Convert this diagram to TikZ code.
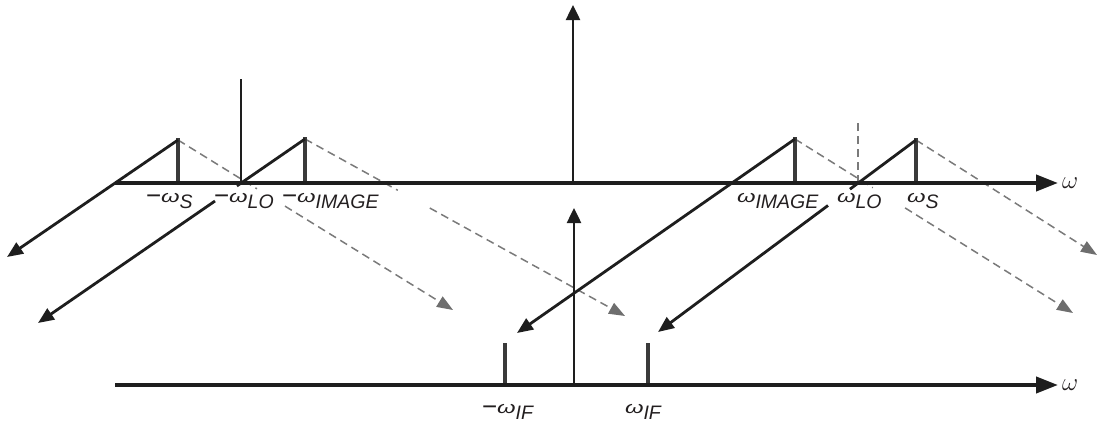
\documentclass[tikz,border=0pt]{standalone}
\usepackage{fontspec}
\usepackage{graphicx}
\setmainfont{Liberation Sans}
\usetikzlibrary{arrows.meta,calc}
\definecolor{axisc}{HTML}{1E1E1E}
\definecolor{barc}{HTML}{3A3A3A}
\definecolor{dashc}{HTML}{7A7A7A}
\definecolor{dashtip}{HTML}{6E6E6E}
\definecolor{txtc}{HTML}{231F20}
\newcommand{\mns}{\raisebox{-2pt}{\fontsize{26}{26}\selectfont −}}
\newcommand{\omlab}[2]{#1\scalebox{1.4}[1]{\fontsize{17}{17}\selectfont\itshape ω}\raisebox{-6pt}{\fontsize{19.5}{19.5}\selectfont\itshape #2}}
\begin{document}
\begin{tikzpicture}[x=1pt,y=-1pt,
  axis/.style={line width=4pt,color=axisc,-{Triangle[length=22pt,width=16pt]}},
  bar/.style={line width=4.5pt,color=barc},
  sol/.style={line width=2.8pt,color=axisc},
  solarrow/.style={sol,-{Triangle[length=16pt,width=13pt]}},
  vline/.style={line width=2.5pt,color=axisc,-{Triangle[length=15pt,width=14pt]}},
  dsh/.style={line width=1.5pt,color=dashc,dash pattern=on 8pt off 5pt},
  dsharrow/.style={dsh,-{Triangle[length=16pt,width=12pt,color=dashtip]}},
  lab/.style={inner sep=0pt,outer sep=0pt,text=txtc,anchor=base west},
  axlab/.style={inner sep=0pt,outer sep=0pt,text=txtc,anchor=west}
]
\useasboundingbox (0,0) rectangle (1101,424);
% key coordinates
\coordinate (ax1s) at (115,183);
\coordinate (ax1e) at (1058,183);
\coordinate (ax2s) at (115,385);
\coordinate (ax2e) at (1058,385);
\coordinate (pSm) at (178,140);
\coordinate (pIm) at (305,139);
\coordinate (pIp) at (795,139);
\coordinate (pSp) at (916,140);
\coordinate (tL1) at (7,257);
\coordinate (tL2) at (38,323);
\coordinate (tR1) at (517,333);
\coordinate (tR2) at (658,332);
\coordinate (tD1) at (453,310);
\coordinate (tD2) at (625,316);
\coordinate (tD3) at (1073,313);
\coordinate (tD4) at (1097,255);
% dashed translated copies
\draw[dsh] (pSm) -- ($(pSm)!0.287!(tD1)$);
\draw[dsharrow] ($(pSm)!0.389!(tD1)$) -- (tD1);
\draw[dsh] (pIm) -- ($(pIm)!0.29!(tD2)$);
\draw[dsharrow] ($(pIm)!0.39!(tD2)$) -- (tD2);
\draw[dsh] (pIp) -- ($(pIp)!0.28!(tD3)$);
\draw[dsharrow] ($(pIp)!0.396!(tD3)$) -- (tD3);
\draw[dsharrow] (pSp) -- (tD4);
\draw[dsh] (858,183) -- (858,121);
% bars
\draw[bar] (178,183) -- (178,138);
\draw[bar] (305,183) -- (305,137);
\draw[bar] (795,183) -- (795,137);
\draw[bar] (916,183) -- (916,138);
\draw[bar] (505,385) -- (505,343);
\draw[bar] (648,385) -- (648,343);
% axes
\draw[axis] (ax1s) -- (ax1e);
\draw[axis] (ax2s) -- (ax2e);
% vertical lines
\draw[line width=2.2pt,color=axisc] (241,183) -- (241,79);
\draw[vline] (573,183) -- (573,5);
\draw[vline] (574,385) -- (574,208);
% solid translated copies
\draw[solarrow] (pSm) -- (tL1);
\draw[sol] (pIm) -- ($(pIm)!0.255!(tL2)$);
\draw[solarrow] ($(pIm)!0.337!(tL2)$) -- (tL2);
\draw[solarrow] (pIp) -- (tR1);
\draw[sol] (pSp) -- ($(pSp)!0.256!(tR2)$);
\draw[solarrow] ($(pSp)!0.341!(tR2)$) -- (tR2);
% labels
\node[lab] (lSm) at (146,202) {\omlab{\mns}{S}};
\node[lab] (lLOm) at (214,202) {\omlab{\mns}{LO}};
\node[lab] (lIm) at (282,202) {\omlab{\mns}{IMAGE}};
\node[lab] (lIp) at (737,202) {\omlab{}{IMAGE}};
\node[lab] (lLOp) at (837,202) {\omlab{}{LO}};
\node[lab] (lSp) at (907,202) {\omlab{}{S}};
\node[lab] (lIFm) at (482,413) {\omlab{\mns}{IF}};
\node[lab] (lIFp) at (625,413) {\omlab{}{IF}};
\node[axlab] (w1) at (1062,183) {\fontsize{24}{24}\selectfont$\omega$};
\node[axlab] (w2) at (1062,385) {\fontsize{24}{24}\selectfont$\omega$};
\end{tikzpicture}
\end{document}
